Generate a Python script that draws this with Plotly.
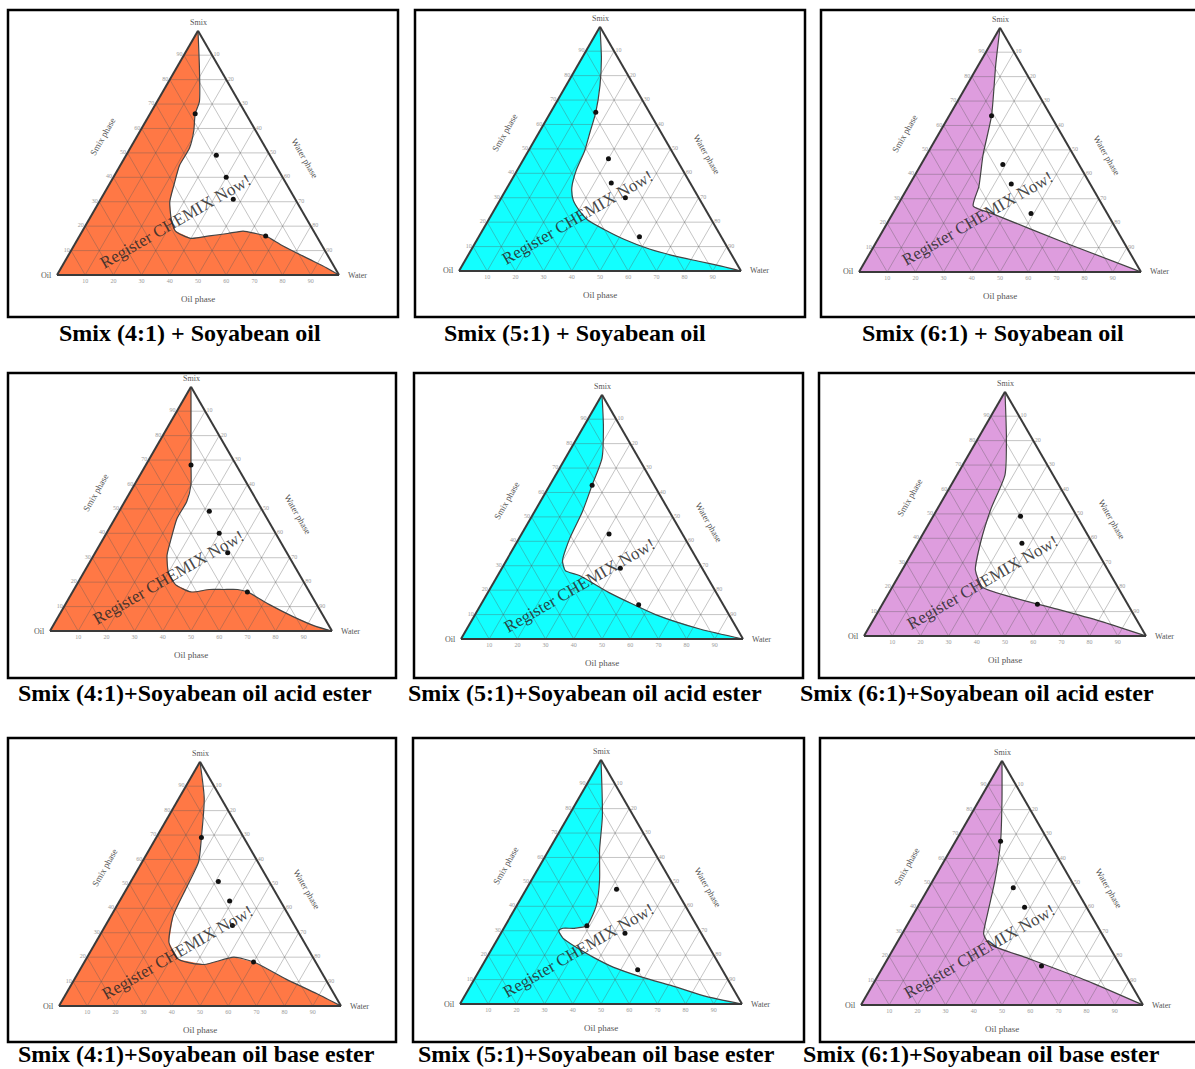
import math
import plotly.graph_objects as go

W, H = 1195, 1069

# ---------------- data (Smix %, Oil %, Water %) ----------------
CAPTIONS = [
    "Smix (4:1) + Soyabean oil", "Smix (5:1) + Soyabean oil", "Smix (6:1) + Soyabean oil",
    "Smix (4:1)+Soyabean oil acid ester", "Smix (5:1)+Soyabean oil acid ester", "Smix (6:1)+Soyabean oil acid ester",
    "Smix (4:1)+Soyabean oil base ester", "Smix (5:1)+Soyabean oil base ester", "Smix (6:1)+Soyabean oil base ester",
]
VERTEX_LABELS = ["Smix", "Oil", "Water"]
SIDE_LABELS = ["Smix phase", "Oil phase", "Water phase"]
TICKS = [10, 20, 30, 40, 50, 60, 70, 80, 90]
BOTTOM_TICK_TEXT = ["90", "80", "70", "60", "50", "40", "30", "20", "10"]
WATERMARK = "Register CHEMIX Now!"

P1_CURVE = [(100, 0, 0), (85, 7, 8), (71, 14, 15), (66, 18, 16), (59, 22, 19), (52, 27, 21), (45, 34, 21),
            (37, 40, 23), (30, 45, 25), (23, 48, 29), (18, 49, 33), (15, 45, 40), (16, 38, 46), (17, 31, 52),
            (18, 25, 57), (17, 21, 62), (16, 18, 66), (12, 14, 74), (7, 8, 85), (3, 3, 94), (0, 0, 100)]
P1_DOTS = [(66, 18, 16), (49, 19, 32), (40, 20, 40), (31, 22, 47), (16, 18, 66)]

P2_CURVE = [(100, 0, 0), (87, 6, 7), (76, 12, 12), (65, 19, 16), (57, 25, 18), (49, 31, 20), (41, 38, 21),
            (34, 43, 23), (29, 45, 26), (25, 45, 30), (21, 44, 35), (17, 40, 43), (13, 35, 52), (9, 28, 63),
            (6, 20, 74), (4, 13, 83), (2, 6, 92), (0, 0, 100)]
P2_DOTS = [(65, 19, 16), (46, 24, 30), (36, 28, 36), (30, 26, 44), (14, 29, 57)]

P3_CURVE = [(100, 0, 0), (85, 9, 6), (64, 21, 15), (48, 32, 20), (35, 40, 25), (27, 46, 27), (24, 41, 35),
            (12, 21, 67), (0, 0, 100)]
P3_DOTS = [(64, 21, 15), (44, 27, 29), (36, 28, 36), (24, 27, 49)]

P4_CURVE = [(100, 0, 0), (84, 8, 8), (68, 16, 16), (60, 20, 20), (53, 25, 22), (46, 32, 22), (38, 38, 24),
            (31, 43, 26), (24, 46, 30), (19, 46, 35), (16, 42, 42), (17, 35, 48), (17, 30, 53), (17, 25, 58),
            (16, 22, 62), (11, 17, 72), (6, 11, 83), (2, 5, 93), (0, 0, 100)]
P4_DOTS = [(68, 16, 16), (49, 19, 32), (40, 20, 40), (32, 21, 47), (16, 22, 62)]

P5_CURVE = [(100, 0, 0), (87, 6, 7), (74, 13, 13), (63, 22, 15), (52, 31, 17), (41, 41, 18), (32, 48, 20),
            (28, 49, 23), (26, 45, 29), (19, 38, 43), (10, 26, 64), (4, 13, 83), (0, 0, 100)]
P5_DOTS = [(63, 22, 15), (43, 26, 31), (29, 29, 42), (14, 30, 56)]

P6_CURVE = [(100, 0, 0), (81, 9, 10), (66, 17, 17), (52, 29, 19), (39, 39, 22), (27, 47, 26), (20, 48, 32),
            (16, 40, 44), (11, 26, 63), (6, 13, 81), (0, 0, 100)]
P6_DOTS = [(49, 20, 31), (38, 25, 37), (13, 32, 55)]

P7_CURVE = [(100, 0, 0), (85, 6, 9), (69, 15, 16), (59, 21, 20), (48, 31, 21), (37, 41, 22), (26, 48, 26),
            (19, 48, 33), (17, 40, 43), (20, 28, 52), (18, 22, 60), (11, 14, 75), (5, 6, 89), (0, 0, 100)]
P7_DOTS = [(69, 15, 16), (51, 18, 31), (43, 18, 39), (33, 22, 45), (18, 22, 60)]

P8_CURVE = [(100, 0, 0), (77, 11, 12), (63, 19, 18), (51, 25, 24), (41, 31, 28), (35, 36, 29), (32, 39, 29),
            (31, 44, 25), (31, 48, 21), (30, 50, 20), (27, 50, 23), (23, 47, 30), (19, 43, 38), (15, 38, 47),
            (11, 30, 59), (7, 20, 73), (3, 11, 86), (0, 0, 100)]
P8_DOTS = [(32, 39, 29), (47, 21, 32), (29, 27, 44), (14, 30, 56)]

P9_CURVE = [(100, 0, 0), (84, 8, 8), (67, 17, 16), (51, 27, 22), (38, 36, 26), (29, 42, 29), (25, 42, 33),
            (19, 31, 50), (10, 15, 75), (0, 0, 100)]
P9_DOTS = [(67, 17, 16), (48, 22, 30), (40, 22, 38), (16, 28, 56)]

OIL_CORNER = (0, 100, 0)

CURVES = [P1_CURVE, P2_CURVE, P3_CURVE, P4_CURVE, P5_CURVE, P6_CURVE, P7_CURVE, P8_CURVE, P9_CURVE]
DOTS = [P1_DOTS, P2_DOTS, P3_DOTS, P4_DOTS, P5_DOTS, P6_DOTS, P7_DOTS, P8_DOTS, P9_DOTS]

# ---------------- styling / layout ----------------
FILLS = ["rgba(255,110,55,0.93)", "rgba(0,255,255,0.93)", "rgba(220,150,220,0.93)"] * 3
TRI_W = 282.0
TRI_H = TRI_W * math.sqrt(3) / 2
PANEL_CX = [198, 600, 1000, 191, 602, 1005, 200, 601, 1002]
PANEL_BASE = [275, 271, 272, 631, 639, 636, 1006, 1004, 1005]
BOXES = [(8, 10, 398, 317), (415, 10, 805, 317), (821, 10, 1205, 317),
         (8, 373, 396, 678), (414, 373, 803, 678), (819, 373, 1205, 678),
         (8, 738, 396, 1042), (413, 738, 804, 1042), (820, 738, 1205, 1042)]
CAP_POS = [(190, 333), (575, 333), (993, 333),
           (195, 693), (585, 693), (977, 693),
           (196, 1054), (596, 1054), (981, 1054)]

SERIF = "Liberation Serif"


def px(x):
    return x / W


def py(y):
    return 1 - y / H


fig = go.Figure()
annotations = []
shapes = []
layout_ternaries = {}

# grid line segments built from tick values
grid_a, grid_b, grid_c = [], [], []
for k in TICKS:
    for seg in (((k, 100 - k, 0), (k, 0, 100 - k)),
                ((100 - k, k, 0), (0, k, 100 - k)),
                ((100 - k, 0, k), (0, 100 - k, k))):
        for p in seg:
            grid_a.append(p[0]); grid_b.append(p[1]); grid_c.append(p[2])
        grid_a.append(None); grid_b.append(None); grid_c.append(None)

for i in range(9):
    sub = "ternary" if i == 0 else f"ternary{i + 1}"
    cx, yb = PANEL_CX[i], PANEL_BASE[i]
    yt = yb - TRI_H
    xo, xw = cx - TRI_W / 2, cx + TRI_W / 2

    axis = dict(min=0, linecolor="#3a3a3a", linewidth=2, showline=True, showgrid=False,
                tickvals=TICKS, ticks="", tickfont=dict(size=6, color="#9a9a9a", family=SERIF),
                title=dict(text=""), layer="above traces")
    baxis = dict(axis, ticktext=BOTTOM_TICK_TEXT)
    layout_ternaries[sub] = dict(
        sum=100,
        domain=dict(x=[px(xo), px(xw)], y=[py(yb), py(yt)]),
        bgcolor="white",
        aaxis=axis, baxis=baxis, caxis=axis,
    )

    poly = CURVES[i] + [OIL_CORNER, CURVES[i][0]]
    fig.add_trace(go.Scatterternary(
        a=[p[0] for p in poly], b=[p[1] for p in poly], c=[p[2] for p in poly],
        mode="lines", fill="toself", fillcolor=FILLS[i],
        line=dict(color="rgba(0,0,0,0)", width=0), subplot=sub, showlegend=False, hoverinfo="skip"))
    fig.add_trace(go.Scatterternary(
        a=grid_a, b=grid_b, c=grid_c, mode="lines",
        line=dict(color="rgba(90,90,90,0.35)", width=1), subplot=sub,
        showlegend=False, hoverinfo="skip", connectgaps=False))
    fig.add_trace(go.Scatterternary(
        a=[p[0] for p in CURVES[i]], b=[p[1] for p in CURVES[i]], c=[p[2] for p in CURVES[i]],
        mode="lines", line=dict(color="#444", width=1.2, shape="spline", smoothing=0.6),
        subplot=sub, showlegend=False, hoverinfo="skip"))
    fig.add_trace(go.Scatterternary(
        a=[p[0] for p in DOTS[i]], b=[p[1] for p in DOTS[i]], c=[p[2] for p in DOTS[i]],
        mode="markers", marker=dict(color="#111", size=5),
        subplot=sub, showlegend=False, hoverinfo="skip"))

    # frame box
    x0, y0, x1, y1 = BOXES[i]
    shapes.append(dict(type="rect", xref="paper", yref="paper",
                       x0=px(x0), x1=px(x1), y0=py(y1), y1=py(y0),
                       line=dict(color="black", width=2.5), fillcolor="rgba(0,0,0,0)"))

    small = dict(family=SERIF, size=8, color="#555")
    # vertex labels
    annotations.append(dict(x=px(cx), y=py(yt - 8), text=VERTEX_LABELS[0], font=dict(small)))
    annotations.append(dict(x=px(xo - 11), y=py(yb), text=VERTEX_LABELS[1], font=dict(small)))
    annotations.append(dict(x=px(xw + 18), y=py(yb), text=VERTEX_LABELS[2], font=dict(small)))
    # side labels
    lmx, lmy = (xo + cx) / 2, (yb + yt) / 2
    rmx, rmy = (xw + cx) / 2, (yb + yt) / 2
    side = dict(family=SERIF, size=9, color="#555")
    annotations.append(dict(x=px(lmx - 25), y=py(lmy - 16), text=SIDE_LABELS[0], font=dict(side), textangle=-60))
    annotations.append(dict(x=px(cx), y=py(yb + 24), text=SIDE_LABELS[1], font=dict(side)))
    annotations.append(dict(x=px(rmx + 36), y=py(rmy + 5), text=SIDE_LABELS[2], font=dict(side), textangle=60))
    # watermark
    annotations.append(dict(x=px(xo + 0.42 * TRI_W), y=py(yb - 0.22 * TRI_H), text=WATERMARK,
                            font=dict(family=SERIF, size=17, color="rgba(40,40,40,0.85)"), textangle=-30))
    # caption
    cxp, cyp = CAP_POS[i]
    annotations.append(dict(x=px(cxp), y=py(cyp), text=f"<b>{CAPTIONS[i]}</b>",
                            font=dict(family=SERIF, size=24, color="black")))

for a in annotations:
    a.update(xref="paper", yref="paper", showarrow=False, xanchor="center", yanchor="middle")

fig.update_layout(
    width=W, height=H, margin=dict(l=0, r=0, t=0, b=0),
    paper_bgcolor="white", plot_bgcolor="white",
    annotations=annotations, shapes=shapes, showlegend=False,
    **layout_ternaries,
)

fig.write_html("out.html")
